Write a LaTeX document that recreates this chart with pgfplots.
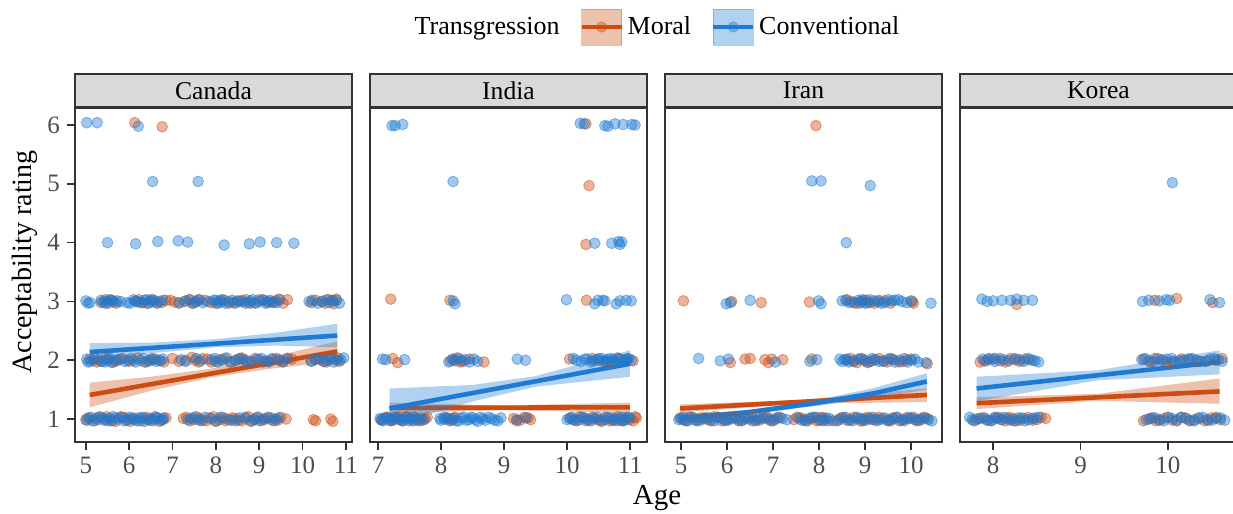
\documentclass[border=0pt]{standalone}
\usepackage{pgfplots}
\pgfplotsset{compat=1.18}
\usepackage{fontspec}
\setmainfont{Liberation Serif}
\definecolor{mred}{RGB}{204,76,18}
\definecolor{mblue}{RGB}{30,122,210}
\definecolor{grey20}{RGB}{51,51,51}
\definecolor{grey30}{RGB}{77,77,77}
\definecolor{grey85}{RGB}{217,217,217}
\pgfplotsset{
  every axis title/.style={at={(axis description cs:0.5,1)}, anchor=south, draw=grey20, fill=grey85,
      line width=0.8pt, minimum width=138.5pt, minimum height=16.5pt, inner sep=0pt,
      font=\fontsize{12.8}{15}\selectfont, text=black},
  facet/.style={
    scale only axis, width=138.5pt, height=167pt,
    anchor=south west,
    ymin=0.61, ymax=6.29,
    axis line style={draw=grey20, line width=0.8pt},
    tick align=outside, major tick length=4pt,
    tick style={draw=grey20, line width=0.8pt},
    xtick pos=bottom, ytick pos=left,
    tick label style={font=\fontsize{12.5}{15}\selectfont, text=grey30},
    /pgf/number format/assume math mode=true,
  },
  mor/.style={only marks, mark=*, mark size=2.7pt, forget plot,
    mark options={fill=mred, draw=mred, fill opacity=0.42, draw opacity=0.5}},
  con/.style={only marks, mark=*, mark size=2.7pt, forget plot,
    mark options={fill=mblue, draw=mblue, fill opacity=0.42, draw opacity=0.5}},
  morband/.style={fill=mred, fill opacity=0.35, draw=none, forget plot},
  conband/.style={fill=mblue, fill opacity=0.35, draw=none, forget plot},
  morline/.style={draw=mred, line width=2.3pt, no marks, forget plot},
  conline/.style={draw=mblue, line width=2.3pt, no marks, forget plot},
}
\begin{document}
\begin{tikzpicture}
\useasboundingbox (0,0) rectangle (616.5pt,257pt);
% ---------------- Canada
\begin{axis}[facet, at={(37.5pt,36pt)}, title={Canada},
  xmin=4.75, xmax=11.14, xtick={5,...,11}, ytick={1,...,6},
  ylabel={Acceptability rating},
  ylabel style={at={(axis description cs:-0.1805,0.539)}, anchor=center, rotate=0, font=\fontsize{14}{16}\selectfont},
  xlabel={Age},
  xlabel style={at={(axis description cs:2.101,-0.1677)}, anchor=center, font=\fontsize{14.5}{16}\selectfont},
  legend columns=-1,
  legend style={at={(axis description cs:2.101,1.2425)}, anchor=center, draw=none, fill=none,
    font=\fontsize{13}{15}\selectfont, /tikz/every even column/.append style={column sep=8pt}},
]
\addlegendimage{empty legend}
\addlegendentry{Transgression}
\addlegendimage{legend image code/.code={\fill[mred, opacity=0.35] (0pt,-9pt) rectangle (20pt,9pt); \draw[mred, line width=2pt] (0pt,0pt)--(20pt,0pt); \fill[mred, opacity=0.4] (10pt,0pt) circle (2.6pt);}}
\addlegendentry{Moral}
\addlegendimage{legend image code/.code={\fill[mblue, opacity=0.35] (0pt,-9pt) rectangle (20pt,9pt); \draw[mblue, line width=2pt] (0pt,0pt)--(20pt,0pt); \fill[mblue, opacity=0.4] (10pt,0pt) circle (2.6pt);}}
\addlegendentry{Conventional}
\addplot[mor] coordinates {
(5.05,1.02)(5.15,0.97)(5.3,1.03)(5.42,0.98)(5.55,1.01)(5.68,0.96)(5.8,1.04)(5.95,0.99)(6.1,1.02)(6.25,0.97)(6.4,1.03)(6.55,1.0)(6.7,0.96)(6.85,1.02)(7.25,1.01)(7.4,0.97)(7.55,1.04)(7.7,0.98)(7.85,1.02)(8.0,0.96)(8.15,1.03)(8.3,0.99)(8.45,1.01)(8.6,0.97)(8.75,1.04)(8.9,1.0)(9.05,0.98)(9.2,1.02)(9.35,0.97)(9.5,1.03)(9.62,1.0)(10.25,0.99)(10.7,0.96)
(5.0,0.99)(5.22,1.01)(5.48,1.04)(5.62,0.98)(5.88,1.03)(6.02,0.96)(6.32,1.01)(6.48,0.98)(6.62,1.03)(6.78,0.99)(7.32,1.03)(7.48,0.99)(7.62,1.01)(7.78,0.97)(7.95,1.04)(8.08,0.99)(8.22,0.97)(8.38,1.02)(8.52,0.98)(8.68,1.01)(8.82,0.96)(8.98,1.03)(9.12,0.99)(9.28,1.02)(9.42,0.98)(10.3,0.97)(10.65,1.0)
(5.1,2.02)(5.25,1.97)(5.45,2.03)(5.6,1.96)(5.75,2.01)(6.0,1.98)(6.2,2.04)(6.45,1.99)(6.6,2.02)(6.8,1.97)(7.0,2.03)(7.3,2.0)(7.45,2.05)(7.6,1.97)(7.8,2.02)(8.0,1.98)(8.2,2.03)(8.45,1.99)(8.6,2.04)(8.8,1.97)(9.0,2.01)(9.2,1.98)(9.4,2.03)(9.55,1.97)(9.75,2.02)(10.2,1.99)(10.4,2.03)(10.55,1.97)(10.75,2.01)(10.85,1.98)
(5.18,2.0)(5.35,1.98)(5.52,2.02)(5.68,1.98)(5.85,2.03)(6.1,2.0)(6.35,1.97)(6.52,2.03)(6.7,2.0)(7.15,1.98)(7.52,2.0)(7.7,2.03)(7.9,1.97)(8.1,2.01)(8.32,1.97)(8.52,2.02)(8.7,2.0)(8.9,2.03)(9.1,1.97)(9.3,2.01)(9.48,1.99)(9.65,2.03)(10.3,2.01)(10.48,1.98)(10.65,2.03)(10.8,2.04)
(5.35,2.98)(5.6,3.02)(5.7,2.97)(6.15,3.01)(6.3,2.98)(6.5,3.03)(6.65,2.97)(6.85,3.02)(7.05,2.99)(7.3,3.01)(7.45,2.97)(7.6,3.03)(7.9,2.98)(8.1,3.02)(8.3,2.97)(8.5,3.01)(8.7,3.03)(8.9,2.98)(9.1,3.02)(9.3,2.99)(9.45,3.04)(9.65,3.03)(10.2,2.98)(10.45,3.0)(10.6,3.03)(10.72,2.96)
(5.45,3.03)(5.52,2.97)(6.22,3.03)(6.4,2.97)(6.58,3.01)(6.75,2.98)(6.95,3.02)(7.15,2.97)(7.38,3.03)(7.52,2.99)(7.75,3.02)(8.0,2.97)(8.2,3.02)(8.4,2.98)(8.6,3.0)(8.8,2.97)(9.0,3.03)(9.2,2.98)(9.38,3.01)(9.55,2.97)(10.3,3.02)(10.52,2.97)(10.68,3.02)(10.78,3.04)
(6.13,6.04)(6.76,5.97)
};
\addplot[con] coordinates {
(5.02,0.98)(5.12,1.03)(5.28,0.99)(5.38,1.02)(5.5,0.97)(5.62,1.04)(5.75,1.0)(5.88,0.97)(6.0,1.03)(6.12,0.99)(6.22,1.02)(6.35,0.96)(6.48,1.01)(6.6,1.04)(6.72,0.98)(6.8,1.02)(7.35,0.99)(7.5,1.03)(7.65,0.97)(7.9,1.01)(8.1,1.03)(8.35,0.98)(8.55,1.02)(8.8,0.97)(8.95,1.03)(9.1,1.0)(9.3,0.98)(9.45,1.02)
(5.07,1.01)(5.2,0.97)(5.32,1.04)(5.45,1.0)(5.58,0.97)(5.68,1.02)(5.82,1.03)(5.95,0.98)(6.06,1.01)(6.18,0.97)(6.3,1.03)(6.42,0.99)(6.55,0.97)(6.66,1.02)(6.76,0.99)(7.42,1.01)(7.58,0.99)(7.75,1.03)(8.0,0.97)(8.22,1.01)(8.45,0.97)(8.68,1.03)(8.88,0.99)(9.02,0.97)(9.2,1.03)(9.38,1.0)
(5.02,2.02)(5.1,1.98)(5.3,2.01)(5.45,1.97)(5.55,2.03)(5.7,2.0)(5.9,1.98)(6.05,2.03)(6.25,2.0)(6.4,1.97)(6.55,2.02)(6.72,1.99)(7.2,2.01)(7.55,2.03)(7.9,2.01)(8.05,1.97)(8.25,2.04)(8.45,2.0)(8.55,2.03)(8.7,1.98)(8.95,2.02)(9.15,1.99)(9.3,2.03)(9.55,1.98)(10.3,2.02)(10.5,1.98)(10.65,2.03)(10.8,2.0)(10.95,2.04)
(5.05,1.97)(5.2,2.03)(5.38,1.98)(5.5,2.01)(5.62,1.97)(5.8,2.02)(5.98,2.0)(6.15,1.97)(6.32,2.03)(6.48,2.0)(6.62,1.98)(6.78,2.02)(7.3,1.98)(7.65,1.99)(7.98,2.03)(8.15,2.0)(8.35,1.97)(8.62,2.01)(8.82,1.98)(9.05,2.03)(9.22,1.97)(9.45,2.01)(9.65,2.03)(10.2,1.98)(10.4,2.02)(10.58,2.0)(10.72,1.97)(10.88,2.01)
(5.0,3.01)(5.1,2.98)(5.35,3.02)(5.45,2.97)(5.55,3.03)(5.65,2.99)(5.72,3.01)(5.95,2.98)(6.1,3.03)(6.2,2.99)(6.35,3.02)(6.45,2.97)(6.55,3.03)(6.7,3.0)(7.15,2.98)(7.4,3.03)(7.55,3.0)(7.7,2.98)(7.95,3.02)(8.05,2.97)(8.15,3.03)(8.3,3.0)(8.45,2.97)(8.6,3.02)(8.75,2.98)(8.85,3.03)(9.0,3.0)(9.15,2.97)(9.25,3.02)(9.4,2.98)(10.15,3.0)(10.35,2.97)(10.55,3.03)(10.7,3.01)(10.85,2.97)
(5.05,2.97)(5.4,2.99)(5.5,3.0)(5.6,3.02)(5.8,3.0)(6.02,2.97)(6.15,3.0)(6.28,2.98)(6.4,3.03)(6.5,3.0)(6.62,2.98)(6.78,3.02)(7.28,3.0)(7.48,2.97)(7.62,3.03)(7.82,3.0)(8.0,3.02)(8.1,2.99)(8.22,2.97)(8.38,3.02)(8.52,3.0)(8.68,2.97)(8.8,3.01)(8.92,2.97)(9.08,3.03)(9.2,3.0)(9.32,2.98)(9.48,3.03)(10.22,3.02)(10.45,3.0)(10.62,2.98)(10.78,3.02)
(5.50,4.0)(6.15,3.98)(6.66,4.02)(7.13,4.03)(7.35,4.01)(8.19,3.96)(8.77,3.98)(9.02,4.01)(9.40,4.0)(9.80,3.99)
(6.54,5.04)(7.59,5.04)
(5.02,6.04)(5.26,6.04)(6.21,5.98)
};
\addplot[morband] coordinates {(5.09,1.62)(6.5,1.72)(7.9,1.86)(9.3,2.06)(10.8,2.32)(10.8,1.98)(9.3,1.86)(7.9,1.71)(6.5,1.48)(5.09,1.20)} -- cycle;
\addplot[morline] coordinates {(5.09,1.41)(10.8,2.15)};
\addplot[conband] coordinates {(5.09,2.29)(6.5,2.30)(8.0,2.36)(9.4,2.47)(10.8,2.62)(10.8,2.22)(9.4,2.25)(8.0,2.22)(6.5,2.12)(5.09,1.99)} -- cycle;
\addplot[conline] coordinates {(5.09,2.14)(10.8,2.42)};
\end{axis}
% ---------------- India
\begin{axis}[facet, at={(185pt,36pt)}, title={India},
  xmin=6.87, xmax=11.27, xtick={7,...,11}, ytick=\empty]
\addplot[mor] coordinates {
(7.05,0.98)(7.12,1.03)(7.2,0.97)(7.28,1.02)(7.36,0.99)(7.45,1.04)(7.55,0.97)(7.62,1.01)(7.7,0.98)(7.78,1.03)(8.05,1.0)(8.15,0.97)(8.22,1.03)(9.15,1.01)(9.25,0.98)(9.32,1.03)(9.42,0.99)(10.05,1.02)(10.15,0.97)(10.25,1.03)(10.35,0.98)(10.45,1.01)(10.55,0.96)(10.65,1.02)(10.72,0.98)(10.8,1.04)(10.88,0.97)(10.95,1.01)(11.05,0.97)(11.1,1.02)
(7.08,1.0)(7.16,1.02)(7.24,0.98)(7.32,1.04)(7.4,0.97)(7.5,1.01)(7.58,1.03)(7.66,0.97)(7.74,1.01)(8.1,1.02)(8.18,0.99)(9.2,0.97)(9.38,1.02)(10.1,0.99)(10.2,1.04)(10.3,0.97)(10.4,1.03)(10.5,0.98)(10.6,1.03)(10.68,0.97)(10.76,1.01)(10.84,0.98)(10.92,1.03)(11.0,0.99)(11.08,1.04)
(7.23,2.03)(7.31,1.96)(8.15,1.99)(8.25,2.04)(8.3,1.97)(8.45,2.02)(8.68,1.97)(10.04,2.02)(10.5,2.0)(10.7,1.97)(10.95,2.02)
(8.2,2.01)(8.35,1.98)(10.4,2.03)(10.62,1.98)(10.82,2.03)(11.05,1.99)
(7.2,3.04)(8.14,3.02)(10.31,3.02)
(10.30,3.97)(10.35,4.97)(10.30,6.02)
};
\addplot[con] coordinates {
(7.03,1.01)(7.08,0.97)(7.15,1.03)(7.22,0.99)(7.3,1.02)(7.38,0.97)(7.46,1.03)(7.52,1.0)(7.6,0.98)(7.68,1.02)(7.73,0.99)(7.98,1.01)(8.05,1.03)(8.12,0.98)(8.2,1.02)(8.28,0.97)(8.36,1.03)(8.44,0.99)(8.5,1.02)(8.58,0.96)(8.66,1.01)(8.75,1.03)(8.85,0.98)(8.95,1.02)(9.2,0.99)(9.35,1.02)(10.0,0.99)(10.08,1.03)(10.18,0.98)(10.28,1.02)(10.38,0.97)(10.48,1.03)(10.6,0.99)(10.7,1.02)(10.78,0.97)(10.86,1.03)(10.92,0.99)(11.0,1.02)
(7.05,0.99)(7.12,1.02)(7.18,0.98)(7.26,1.03)(7.34,0.99)(7.42,1.01)(7.49,0.97)(7.56,1.03)(7.64,0.99)(8.0,0.98)(8.08,1.02)(8.16,1.0)(8.24,0.97)(8.32,1.02)(8.4,0.98)(8.48,1.03)(8.55,0.99)(8.62,1.03)(8.7,0.98)(8.8,1.01)(8.9,0.97)(10.04,1.01)(10.12,0.98)(10.22,1.03)(10.32,0.99)(10.42,1.02)(10.54,0.98)(10.64,1.03)(10.74,0.99)(10.82,1.01)(10.9,0.97)(10.97,1.03)
(7.07,2.02)(7.12,2.01)(7.42,2.01)(8.12,1.97)(8.18,2.02)(8.28,2.03)(8.38,2.01)(8.52,2.02)(8.58,1.98)(9.21,2.02)(9.34,2.0)(10.1,2.03)(10.22,1.98)(10.32,2.02)(10.42,1.99)(10.5,2.03)(10.58,1.98)(10.65,2.02)(10.72,2.0)(10.8,2.04)(10.88,1.98)(10.95,2.02)(11.02,2.0)
(8.22,1.99)(8.32,2.0)(8.45,1.97)(10.15,2.0)(10.28,2.02)(10.38,1.97)(10.46,2.01)(10.55,2.03)(10.62,1.99)(10.7,2.03)(10.76,1.97)(10.85,2.02)(10.92,1.99)(10.98,2.03)
(8.19,3.01)(8.22,2.96)(9.99,3.03)(10.44,2.96)(10.49,3.02)(10.57,3.02)(10.6,3.01)(10.78,2.96)(10.84,3.01)(10.94,3.02)(11.02,3.01)
(10.44,3.99)(10.71,3.99)(10.82,4.02)(10.87,4.01)(10.84,3.97)
(8.19,5.04)
(7.22,5.99)(7.27,5.99)(7.39,6.01)(10.21,6.03)(10.27,6.02)(10.6,5.99)(10.65,5.98)(10.76,6.02)(10.89,6.01)(11.03,6.01)(11.08,6.0)
};
\addplot[morband] coordinates {(7.18,1.28)(9.0,1.23)(11.0,1.28)(11.0,1.11)(9.0,1.15)(7.18,1.10)} -- cycle;
\addplot[morline] coordinates {(7.18,1.19)(11.0,1.20)};
\addplot[conband] coordinates {(7.18,1.52)(8.5,1.58)(9.5,1.73)(11.0,2.17)(11.0,1.72)(9.5,1.55)(8.5,1.30)(7.18,0.88)} -- cycle;
\addplot[conline] coordinates {(7.18,1.18)(11.0,1.94)};
\end{axis}
% ---------------- Iran
\begin{axis}[facet, at={(332.5pt,36pt)}, title={Iran},
  xmin=4.65, xmax=10.67, xtick={5,...,10}, ytick=\empty]
\addplot[mor] coordinates {
(4.98,1.02)(5.1,0.97)(5.22,1.03)(5.35,0.99)(5.5,1.02)(5.65,0.97)(5.8,1.03)(5.95,0.99)(6.1,1.02)(6.25,0.97)(6.4,1.01)(6.55,1.04)(6.7,0.98)(6.85,1.02)(7.0,0.97)(7.15,1.03)(7.45,0.99)(7.6,1.02)(7.75,0.97)(7.9,1.03)(8.0,0.98)(8.08,1.02)(8.2,0.97)(8.45,1.01)(8.6,0.98)(8.75,1.03)(8.9,0.97)(9.0,1.02)(9.15,0.99)(9.3,1.03)(9.48,0.98)(9.6,1.02)(9.75,0.97)(9.9,1.01)(10.05,1.03)(10.2,0.98)(10.35,1.01)
(5.05,0.99)(5.16,1.03)(5.3,0.98)(5.42,1.02)(5.58,0.99)(5.72,1.04)(5.88,0.97)(6.02,1.0)(6.18,1.03)(6.32,0.98)(6.48,1.0)(6.62,0.97)(6.78,1.03)(6.92,0.99)(7.08,1.01)(7.52,1.03)(7.68,0.99)(7.82,1.01)(7.95,0.97)(8.05,1.03)(8.12,0.99)(8.38,0.97)(8.52,1.03)(8.68,0.99)(8.82,1.01)(8.95,0.97)(9.08,1.03)(9.22,0.99)(9.38,1.01)(9.55,0.97)(9.68,1.03)(9.82,0.99)(9.98,1.01)(10.12,0.97)(10.28,1.03)
(6.07,1.96)(6.39,2.02)(6.5,2.03)(6.82,2.01)(6.9,1.96)(6.97,2.02)(7.21,2.01)(7.84,2.02)(8.6,2.0)(8.75,1.98)(8.9,2.02)(9.05,1.96)(9.2,2.01)(9.4,1.99)(9.55,2.03)(9.75,1.97)(9.9,2.01)(10.35,1.94)
(8.68,2.03)(8.82,1.96)(8.98,2.01)(9.12,1.98)(9.3,2.03)(9.48,1.97)(9.62,2.01)(9.82,1.98)(10.0,2.02)
(5.05,3.01)(6.1,3.0)(6.74,2.98)(7.79,2.99)(8.6,3.03)(8.8,2.97)(8.95,3.01)(9.1,2.98)(9.3,3.02)(9.55,2.97)(10.05,2.97)
(8.7,3.0)(8.88,2.97)(9.02,3.02)(9.2,2.97)(9.42,3.01)(10.02,3.0)
(7.93,5.99)
};
\addplot[con] coordinates {
(4.95,0.99)(5.05,1.03)(5.15,0.97)(5.28,1.02)(5.42,0.98)(5.58,1.03)(5.72,0.97)(5.88,1.01)(6.02,0.98)(6.18,1.02)(6.32,0.97)(6.48,1.03)(6.62,0.99)(6.78,1.01)(6.95,0.97)(7.1,1.03)(7.3,0.99)(7.55,1.02)(7.7,0.97)(7.85,1.03)(8.03,0.98)(8.15,1.02)(8.3,0.97)(8.5,1.02)(8.65,0.98)(8.82,1.03)(8.95,0.99)(9.1,1.01)(9.25,0.97)(9.42,1.02)(9.55,0.99)(9.7,1.03)(9.85,0.97)(10.0,1.02)(10.15,0.98)(10.3,1.02)(10.45,0.97)
(5.0,1.01)(5.1,0.98)(5.22,1.03)(5.35,0.97)(5.5,1.01)(5.65,0.99)(5.8,1.03)(5.95,0.97)(6.1,1.01)(6.25,0.99)(6.4,1.03)(6.55,0.97)(6.7,1.01)(6.88,1.03)(7.02,0.99)(7.2,1.01)(7.62,0.98)(7.78,1.01)(7.95,1.03)(8.1,0.97)(8.22,1.01)(8.42,0.98)(8.58,1.03)(8.72,0.97)(8.9,1.01)(9.02,0.98)(9.18,1.03)(9.32,0.99)(9.5,0.97)(9.62,1.01)(9.78,0.98)(9.92,1.03)(10.08,0.99)(10.22,1.01)(10.38,0.99)
(5.38,2.03)(5.85,1.99)(6.03,2.02)(7.05,1.97)(7.8,1.98)(7.95,2.01)(8.45,2.02)(8.55,2.01)(8.65,1.97)(8.85,2.02)(9.0,1.99)(9.15,2.03)(9.3,1.98)(9.5,2.02)(9.65,1.97)(9.85,2.03)(10.0,2.0)(10.15,1.97)
(8.5,1.98)(8.6,2.02)(8.75,1.99)(8.92,2.03)(9.08,1.97)(9.22,2.01)(9.4,1.98)(9.58,2.02)(9.75,2.0)(9.92,1.97)(10.08,2.02)(10.32,1.96)
(5.98,2.96)(6.07,2.98)(6.5,3.02)(7.99,3.01)(8.04,2.96)(8.5,3.01)(8.65,2.98)(8.85,3.02)(8.95,3.03)(9.05,2.98)(9.2,3.01)(9.35,2.97)(9.5,3.03)(9.65,3.02)(9.8,3.0)(10.0,3.01)(10.43,2.97)
(8.58,3.02)(8.75,2.98)(8.9,3.0)(9.0,2.97)(9.1,3.03)(9.28,3.0)(9.42,2.98)(9.58,3.01)(9.72,3.03)(9.9,2.98)
(8.59,4.0)
(7.84,5.05)(8.04,5.05)(9.11,4.97)
};
\addplot[morband] coordinates {(4.98,1.25)(7.5,1.32)(10.34,1.52)(10.34,1.29)(7.5,1.26)(4.98,1.11)} -- cycle;
\addplot[morline] coordinates {(4.98,1.18)(10.34,1.41)};
\addplot[conband] coordinates {(4.98,1.06)(6.5,1.16)(8.0,1.33)(9.2,1.53)(10.34,1.78)(10.34,1.50)(9.2,1.36)(8.0,1.23)(6.5,1.08)(4.98,0.96)} -- cycle;
\addplot[conline] coordinates {(4.98,1.01)(6.5,1.12)(8.0,1.28)(9.2,1.44)(10.34,1.64)};
\end{axis}
% ---------------- Korea
\begin{axis}[facet, at={(480pt,36pt)}, title={Korea},
  xmin=7.62, xmax=10.79, xtick={8,9,10}, ytick=\empty]
\addplot[mor] coordinates {
(7.78,0.97)(7.88,1.02)(7.98,0.98)(8.06,1.03)(8.14,0.97)(8.22,1.01)(8.3,0.98)(8.4,1.03)(8.5,0.99)(8.6,1.01)(9.72,0.97)(9.82,1.02)(9.9,0.98)(10.0,1.03)(10.1,0.97)(10.2,1.02)(10.3,0.99)(10.42,0.97)(10.5,1.02)(10.6,0.99)
(7.82,1.01)(7.93,0.98)(8.02,1.02)(8.1,0.99)(8.18,1.03)(8.26,0.97)(8.35,1.01)(8.45,0.98)(8.55,1.03)(9.78,1.0)(9.86,0.97)(9.95,1.01)(10.05,0.98)(10.15,1.03)(10.25,0.97)(10.36,1.01)(10.46,0.98)(10.55,1.03)
(7.85,1.97)(7.95,2.02)(8.08,1.99)(8.2,2.03)(8.3,1.98)(8.42,2.01)(9.72,2.02)(9.8,1.97)(9.92,2.01)(10.05,1.98)(10.25,2.02)(10.45,1.99)(10.62,2.03)
(7.9,1.99)(8.02,2.03)(8.14,1.97)(8.25,2.01)(8.36,2.02)(9.85,2.03)(9.98,1.97)(10.15,2.02)(10.35,1.98)(10.55,2.0)
(8.27,2.95)(9.85,3.02)(10.1,3.05)(10.51,2.98)
};
\addplot[con] coordinates {
(7.73,1.03)(7.8,0.98)(7.9,1.02)(7.98,0.97)(8.05,1.01)(8.12,1.03)(8.2,0.98)(8.28,1.02)(8.36,0.97)(8.45,1.01)(8.52,1.03)(9.75,0.99)(9.85,1.02)(9.95,0.97)(10.05,1.01)(10.15,1.03)(10.25,0.98)(10.35,1.02)(10.45,0.99)(10.55,1.01)(10.65,0.98)
(7.76,0.99)(7.85,1.01)(7.94,0.98)(8.02,1.03)(8.09,0.99)(8.16,1.01)(8.24,0.97)(8.32,1.02)(8.4,0.99)(8.48,1.02)(9.8,1.01)(9.9,0.99)(10.0,1.03)(10.1,0.98)(10.2,1.01)(10.3,0.97)(10.4,1.03)(10.5,0.98)(10.6,1.02)
(7.88,2.02)(7.95,2.03)(8.02,1.98)(8.12,2.01)(8.25,2.03)(8.35,1.98)(8.45,2.0)(8.52,1.97)(9.7,2.01)(9.78,1.99)(9.88,2.03)(9.98,2.02)(10.08,1.98)(10.18,2.01)(10.28,2.03)(10.38,1.98)(10.48,2.02)(10.58,2.01)(10.62,1.98)
(7.92,1.99)(8.0,2.02)(8.08,2.03)(8.18,1.99)(8.3,2.01)(8.4,2.03)(8.48,1.99)(9.74,2.03)(9.84,1.98)(9.94,2.0)(10.04,2.03)(10.13,1.99)(10.23,2.02)(10.33,2.0)(10.43,1.98)(10.53,2.03)
(7.87,3.04)(7.93,3.0)(8.0,3.01)(8.1,3.02)(8.2,3.02)(8.27,3.04)(8.35,3.02)(8.45,3.02)(9.71,3.0)(9.78,3.02)(9.9,3.01)(9.98,3.03)(10.02,3.02)(10.48,3.03)(10.59,2.98)
(10.05,5.02)
};
\addplot[morband] coordinates {(7.81,1.37)(9.2,1.43)(10.59,1.69)(10.59,1.26)(9.2,1.31)(7.81,1.17)} -- cycle;
\addplot[morline] coordinates {(7.81,1.27)(10.59,1.47)};
\addplot[conband] coordinates {(7.81,1.72)(9.2,1.83)(10.59,2.17)(10.59,1.76)(9.2,1.66)(7.81,1.30)} -- cycle;
\addplot[conline] coordinates {(7.81,1.52)(10.59,1.97)};
\end{axis}
\end{tikzpicture}
\end{document}
